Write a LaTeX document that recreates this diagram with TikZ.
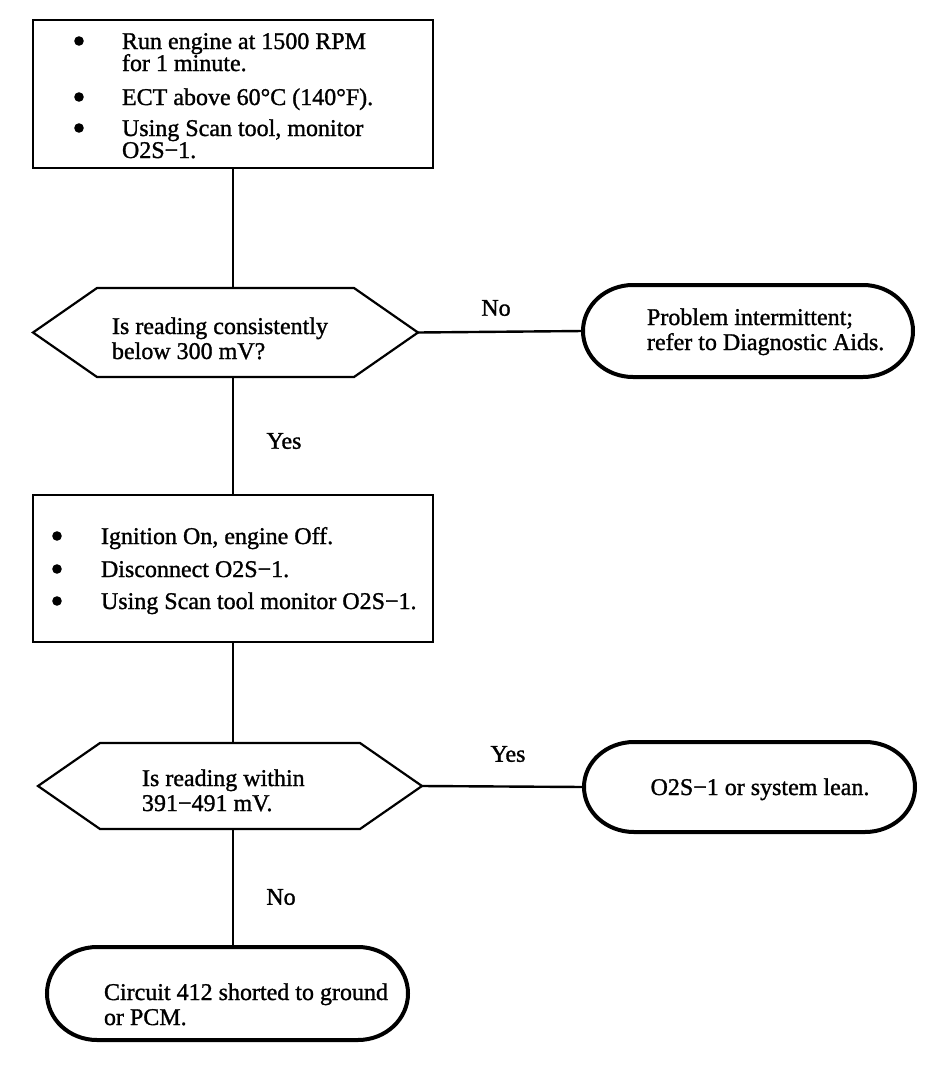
\documentclass[tikz,border=0pt]{standalone}
\usepackage{fontspec}
\setmainfont{Liberation Serif}
\newfontfamily\scanfont[FakeBold=1.2]{Liberation Serif}
\begin{document}
\begin{tikzpicture}[x=0.5pt,y=-0.5pt,
  every node/.style={inner sep=0pt,outer sep=0pt},
  txt/.style={anchor=base west,font=\scanfont\fontsize{12}{14}\selectfont},
  lbl/.style={anchor=center,font=\scanfont\fontsize{12}{14}\selectfont},
  boxn/.style={draw,line width=1.1pt,minimum width=200pt,minimum height=74pt},
  conn/.style={line width=1.2pt},
  hexline/.style={line width=1.1pt,line join=miter},
  termline/.style={line width=2pt},
  dot/.style={fill=black}]
\useasboundingbox (0,0) rectangle (944,1066);

% boxes
\node[boxn] (b1) at (233,94) {};
\node[boxn,minimum height=73.5pt] (b2) at (233,568.5) {};

% hexagon frames
\node[minimum width=192.5pt,minimum height=44.5pt] (q1) at (225.5,332.5) {};
\node[minimum width=192pt,minimum height=43pt] (q2) at (230,786) {};
\draw[hexline] (q1.west) -- ([xshift=32pt]q1.north west) -- ([xshift=-32pt]q1.north east) -- (q1.east) -- ([xshift=-32pt]q1.south east) -- ([xshift=32pt]q1.south west) -- cycle;
\draw[hexline] (q2.west) -- ([xshift=31pt]q2.north west) -- ([xshift=-31pt]q2.north east) -- (q2.east) -- ([xshift=-31pt]q2.south east) -- ([xshift=31pt]q2.south west) -- cycle;

% terminal frames
\node[minimum width=165pt,minimum height=46pt] (t1) at (748,331) {};
\node[minimum width=165.5pt,minimum height=45pt] (t2) at (749.5,787) {};
\node[minimum width=180.5pt,minimum height=46.5pt] (t3) at (227.5,993.5) {};
\foreach \t/\ry in {t1/23pt,t2/22.5pt,t3/23.25pt}{
  \draw[termline] ([xshift=25pt]\t.north west) -- ([xshift=-25pt]\t.north east)
    arc[start angle=90,end angle=-90,x radius=25pt,y radius=\ry]
    -- ([xshift=25pt]\t.south west)
    arc[start angle=270,end angle=90,x radius=25pt,y radius=\ry] -- cycle;
}

% connectors
\draw[conn] (b1.south) -- (b1.south |- q1.north);
\draw[conn] (q1.east) -- (t1.west);
\draw[conn] (b1.south |- q1.south) -- (b2.north);
\draw[conn] (b2.south) -- (b2.south |- q2.north);
\draw[conn] (q2.east) -- (t2.west);
\draw[conn] (b2.south |- q2.south) -- (b2.south |- t3.north);

% labels
\node[lbl] (no1) at (496,308) {No};
\node[lbl] (yes1) at (284,441) {Yes};
\node[lbl] (yes2) at (508,754) {Yes};
\node[lbl] (no2) at (281,897) {No};

% box 1 text
\fill[dot] (79,41) circle[radius=2.4pt];
\fill[dot] (79,97) circle[radius=2.4pt];
\fill[dot] (79,128) circle[radius=2.4pt];
\node[txt] (b1l1) at (122,49) {Run engine at 1500 RPM};
\node[txt] (b1l2) at (122,71) {for 1 minute.};
\node[txt] (b1l3) at (122,105) {ECT above 60°C (140°F).};
\node[txt] (b1l4) at (122,136) {Using Scan tool, monitor};
\node[txt] (b1l5) at (122,158) {O2S−1.};

% hex 1 text
\node[txt] (q1l1) at (112,334) {Is reading consistently};
\node[txt] (q1l2) at (112,359) {below 300 mV?};

% term 1 text
\node[txt] (t1l1) at (647,325) {Problem intermittent;};
\node[txt] (t1l2) at (647,350) {refer to Diagnostic Aids.};

% box 2 text
\fill[dot] (57,536) circle[radius=2.4pt];
\fill[dot] (57,569) circle[radius=2.4pt];
\fill[dot] (57,601) circle[radius=2.4pt];
\node[txt] (b2l1) at (101,544) {Ignition On, engine Off.};
\node[txt] (b2l2) at (101,577) {Disconnect O2S−1.};
\node[txt] (b2l3) at (101,609) {Using Scan tool monitor O2S−1.};

% hex 2 text
\node[txt] (q2l1) at (142,786) {Is reading within};
\node[txt] (q2l2) at (142,811) {391−491 mV.};

% term 2 text
\node[txt,anchor=base] (t2l1) at (760,795) {O2S−1 or system lean.};

% term 3 text
\node[txt] (t3l1) at (104,1000) {Circuit 412 shorted to ground};
\node[txt] (t3l2) at (104,1025) {or PCM.};
\end{tikzpicture}
\end{document}
